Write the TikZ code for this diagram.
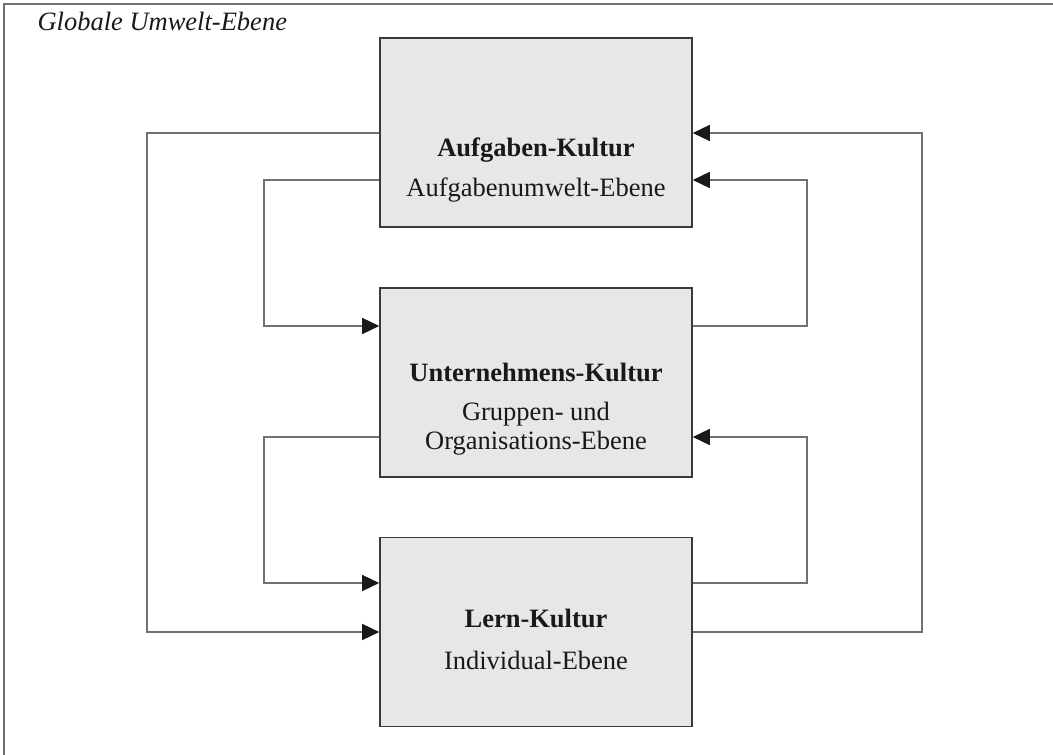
\documentclass[tikz,border=0pt]{standalone}
\usepackage{fontspec}
\setmainfont{Liberation Serif}
\usetikzlibrary{arrows.meta}
\definecolor{boxfill}{HTML}{E6E7E8}
\definecolor{boxline}{HTML}{3A3A3A}
\definecolor{conline}{HTML}{707070}
\tikzset{
  culture/.style={draw=boxline, line width=1.6pt, fill=boxfill, minimum width=312pt, minimum height=189pt, inner sep=0pt},
  title/.style={font=\fontsize{26.5}{32}\selectfont\bfseries, text=black!90},
  sub/.style={font=\fontsize{26.5}{32}\selectfont, text=black!90},
  conn/.style={draw=conline, line width=1.5pt, -{Triangle[length=17pt,width=16pt,fill=black!90,color=black!90]}},
  frame/.style={draw=conline, line width=1.5pt}
}
\begin{document}
\begin{tikzpicture}[x=1pt,y=-1pt]
\useasboundingbox (0,0) rectangle (1053,755);
\fill[white] (0,0) rectangle (1053,755);
\draw[frame] (1053,4) -- (4,4) -- (4,755);
\node[anchor=west, font=\fontsize{26.5}{32}\selectfont\itshape, text=black!90] (global) at (34,21) {Globale Umwelt-Ebene};

\node[culture] (aufg) at (536,132.5) {};
\node[culture] (unt) at (536,382.5) {};
\node[culture] (lern) at (536,632) {};

\node[title] (t1a) at (536,150) {Aufgaben-Kultur};
\node[sub] (t1b) at (536,190) {Aufgabenumwelt-Ebene};
\node[title] (t2a) at (536,372) {Unternehmens-Kultur};
\node[sub] (t2b) at (536,414) {Gruppen- und};
\node[sub] (t2c) at (536,443) {Organisations-Ebene};
\node[title] (t3a) at (536,618) {Lern-Kultur};
\node[sub] (t3b) at (536,660) {Individual-Ebene};

% outer loops
\draw[conn] (aufg.west |- 0,133) -- (147,133) -- (147,632) -- (lern.west |- 0,632);
\draw[conn] (lern.east |- 0,632) -- (922,632) -- (922,133) -- (aufg.east |- 0,133);
% upper inner loops
\draw[conn] (aufg.west |- 0,180) -- (264,180) -- (264,326) -- (unt.west |- 0,326);
\draw[conn] (unt.east |- 0,326) -- (807,326) -- (807,180) -- (aufg.east |- 0,180);
% lower inner loops
\draw[conn] (unt.west |- 0,437) -- (264,437) -- (264,583) -- (lern.west |- 0,583);
\draw[conn] (lern.east |- 0,583) -- (807,583) -- (807,437) -- (unt.east |- 0,437);
\end{tikzpicture}
\end{document}
